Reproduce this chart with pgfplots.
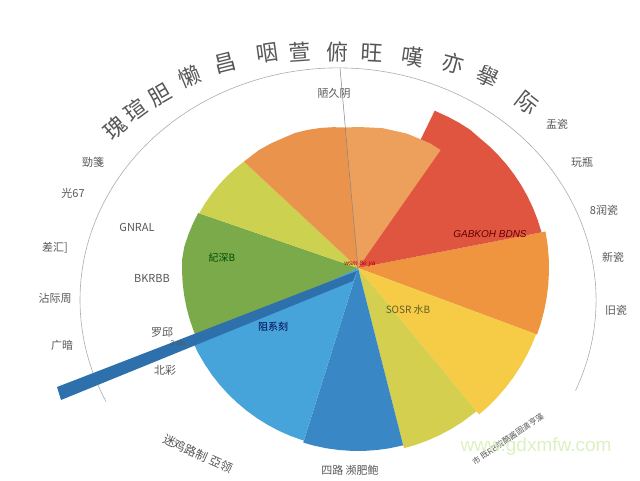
\documentclass[border=0pt]{standalone}
\usepackage{pgfplots}
\pgfplotsset{compat=1.18}
\usepackage{fontspec}
\setmainfont{Liberation Sans}
\newfontfamily\cjk{Noto Sans CJK SC}

\definecolor{cRed}{HTML}{E0553F}
\definecolor{cOrR}{HTML}{EDA05C}
\definecolor{cOrL}{HTML}{E9934D}
\definecolor{cYGu}{HTML}{CDD150}
\definecolor{cGreen}{HTML}{7BAA4A}
\definecolor{cLBlue}{HTML}{46A4DB}
\definecolor{cDBlue}{HTML}{3A87C5}
\definecolor{cYGb}{HTML}{D4CF4E}
\definecolor{cYel}{HTML}{F6CB45}
\definecolor{cOrange}{HTML}{EF9540}
\definecolor{cBar}{HTML}{2E70AC}
\definecolor{cTxt}{HTML}{575757}

\begin{document}
\begin{tikzpicture}
\begin{axis}[
  scale only axis, width=640pt, height=480pt,
  xmin=-358, xmax=282, ymin=-212, ymax=268,
  hide axis, clip=false, enlargelimits=false,
]
\path (axis cs:-358,-212) rectangle (axis cs:282,268);

% outer ring
\draw[gray!65, line width=0.6pt] (axis cs:217.5,-122.6) arc[start angle=-23, end angle=206, x radius=258, y radius=232];

% wedges (angle, radius)
\addplot[fill=cOrange, draw=none, data cs=polar] coordinates {(0,0) (339.6,191) (343,191) (347,191) (351,191) (355,191) (359,191) (363,191) (367,191) (371,191)};
\addplot[fill=cYel, draw=none, data cs=polar] coordinates {(0,0) (309.6,190) (313,190) (317,190) (321,190) (325,190) (329,190) (333,190) (336,190) (339.6,190)};
\addplot[fill=cYGb, draw=none, data cs=polar] coordinates {(0,0) (284.3,186) (288,186) (292,186) (296,186) (300,186) (304,186) (309.6,186)};
\addplot[fill=cDBlue, draw=none, data cs=polar] coordinates {(0,0) (252.6,183) (256,183) (260,183) (264,183) (268,183) (272,183) (276,183) (280,183) (284.3,183)};
\addplot[fill=cLBlue, draw=none, data cs=polar] coordinates {(0,0) (204,181) (208,181) (212,181) (216,181) (220,181) (224,181) (228,181) (232,181) (236,181) (240,181) (244,181) (248,181) (252.6,181)};
\addplot[fill=cGreen, draw=none, data cs=polar] coordinates {(0,0) (161,169) (165,171) (169,173) (173,175) (177,176) (181,176) (185,176) (189,176) (193,176) (197,176) (201,176) (205,176)};
\addplot[fill=cYGu, draw=none, data cs=polar] coordinates {(0,0) (137,156) (141,158) (145,160) (149,162) (153,164) (157,166) (161,168)};
\addplot[fill=cRed, draw=none, data cs=polar] coordinates {(0,0) (11,187) (15,186) (19,185) (23,184) (27,183) (31,182) (35,181) (39,180) (43,179) (47,178) (51,178) (55,177) (59,176) (64,175)};
\addplot[fill=cOrR, draw=none, data cs=polar] coordinates {(0,0) (55,144) (60,144) (65,143) (70,143) (75,142) (80,142) (85,141) (90,141) (95,141)};
\addplot[fill=cOrL, draw=none, data cs=polar] coordinates {(0,0) (95,141) (100,143) (105,145) (110,147) (115,149) (120,150) (125,152) (130,154) (137,156)};
% long bar
\addplot[fill=cBar, draw=none] coordinates {(-1,-3) (-301,-119) (-297,-132) (-5,-13)};

% radial line
\draw[color=gray!80!brown, line width=0.5pt] (axis cs:0,0) -- (axis cs:-18,200);

% center scribble
\node[text=red!70!black, font=\fontsize{6.5}{6.5}\selectfont\itshape] at (axis cs:2,4) {wsm 8e ya};

% title along arc
\begin{scope}[every node/.style={text=cTxt, font=\cjk\fontsize{22}{22}\selectfont}]
\node[rotate=42] at (axis cs:-243,140) {瑰};
\node[rotate=36] at (axis cs:-223,158) {瑄};
\node[rotate=30] at (axis cs:-198,173) {胆};
\node[rotate=22] at (axis cs:-168,191) {懒};
\node[rotate=14] at (axis cs:-133,205) {昌};
\node[rotate=8] at (axis cs:-91,215) {咽};
\node[rotate=4] at (axis cs:-58,216) {萱};
\node[rotate=0] at (axis cs:-21,216) {俯};
\node[rotate=-3] at (axis cs:14,215) {旺};
\node[rotate=-8] at (axis cs:55,211) {嘆};
\node[rotate=-15] at (axis cs:95,205) {亦};
\node[rotate=-25] at (axis cs:130,191) {擧};
\node[rotate=-38] at (axis cs:169,165) {际};
\end{scope}

% outer labels
\begin{scope}[every node/.style={text=cTxt, font=\cjk\fontsize{11}{11}\selectfont}]
\node at (axis cs:-24,175) {陋久阴};
\node at (axis cs:199,144) {盂瓷};
\node at (axis cs:224,106) {玩瓶};
\node at (axis cs:246,58) {8润瓷};
\node at (axis cs:255,11) {新瓷};
\node at (axis cs:258,-42) {旧瓷};
\node at (axis cs:-265,106) {勁箋};
\node at (axis cs:-285,75) {光67};
\node at (axis cs:-303,20) {差汇]};
\node at (axis cs:-303,-30) {沾际周};
\node at (axis cs:-296,-77) {广暗};
\node at (axis cs:-221,41) {GNRAL};
\node at (axis cs:-206,-10) {BKRBB};
\node at (axis cs:-196,-64) {罗邱};
\node at (axis cs:-193,-102) {北彩};
\node at (axis cs:-8,-202) {四路\ 濒肥鲍};
\node[rotate=-24, font=\cjk\fontsize{12}{12}\selectfont] at (axis cs:-160,-186) {迷鸡路制\ 亞领};
\node[rotate=34, font=\cjk\fontsize{8}{8}\selectfont] at (axis cs:150,-171) {市\ 既RB院酷酱固滴亨藻};
\end{scope}

% inner labels
\node[text=red!40!black, font=\fontsize{10}{10}\selectfont\itshape] at (axis cs:132,34) {GABKOH BDNS};
\node[text=olive!60!black, font=\cjk\fontsize{10}{10}\selectfont] at (axis cs:50,-42) {SOSR 水B};
\node[text=black!70!green, font=\cjk\fontsize{10}{10}\selectfont] at (axis cs:-136,10) {紀深B};
\node[text=blue!30!black, font=\cjk\fontsize{10}{10}\selectfont] at (axis cs:-85,-59) {阻系刻};
\node[text=cTxt, font=\fontsize{7}{7}\selectfont] at (axis cs:-180,-75) {3 ale};

% watermark
\node[text=yellow!45!green!25, font=\fontsize{19}{19}\selectfont] at (axis cs:178,-179) {www.gdxmfw.com};
\end{axis}
\end{tikzpicture}
\end{document}
